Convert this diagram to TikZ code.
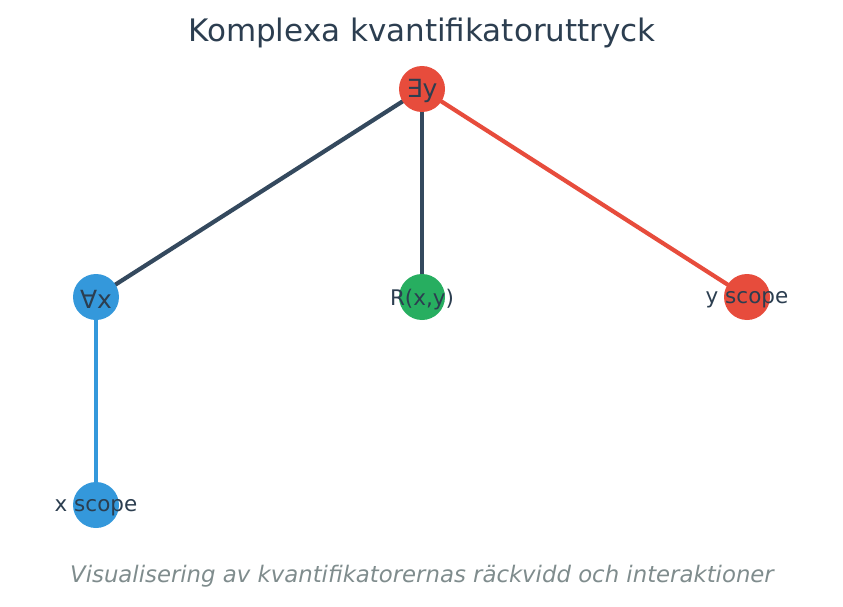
\documentclass[tikz,border=0pt]{standalone}
\usepackage{fontspec}
\setmainfont{DejaVu Sans}
\usetikzlibrary{backgrounds}
\definecolor{darkblue}{HTML}{2C3E50}
\definecolor{slate}{HTML}{34495E}
\definecolor{qred}{HTML}{E74C3C}
\definecolor{qblue}{HTML}{3498DB}
\definecolor{qgreen}{HTML}{27AE60}
\definecolor{subgray}{HTML}{7F8C8D}

\tikzset{
	qnode/.style={circle, minimum size=46pt, inner sep=0pt},
	qlabel/.style={label={[text=darkblue, yshift=-3pt, font=\fontsize{21.5}{21.5}\selectfont]center:#1}},
	qbig/.style={label={[text=darkblue, yshift=-2pt, font=\fontsize{25}{25}\selectfont]center:#1}},
	edge/.style={line width=4.2pt}
}

\begin{document}
\begin{tikzpicture}[x=1pt, y=-1pt]
			\useasboundingbox (0,0) rectangle (843,607);
			\node[qnode, fill=qred, qbig={∃y}] (exists) at (422,89) {};
			\node[qnode, fill=qblue, qbig={∀x}] (forall) at (96,297) {};
			\node[qnode, fill=qgreen, qlabel={R(x,y)}] (rel) at (422,297) {};
			\node[qnode, fill=qred, qlabel={y scope}] (yscope) at (747,297) {};
			\node[qnode, fill=qblue, qlabel={x scope}] (xscope) at (96,505) {};
			\begin{pgfonlayer}{background}
			\draw[edge, slate] (exists.center)--(forall.center);
			\draw[edge, slate] (exists.center)--(rel.center);
			\draw[edge, qred] (exists.center)--(yscope.center);
			\draw[edge, qblue] (forall.center)--(xscope.center);
			\end{pgfonlayer}
			\node[text=darkblue, font=\fontsize{31}{31}\selectfont] (title) at (422,33) {Komplexa kvantifikatoruttryck};
			\node[text=subgray, font=\fontsize{22.8}{22.8}\selectfont\itshape] (subtitle) at (422,576) {Visualisering av kvantifikatorernas räckvidd och interaktioner};
		\end{tikzpicture}
\end{document}
